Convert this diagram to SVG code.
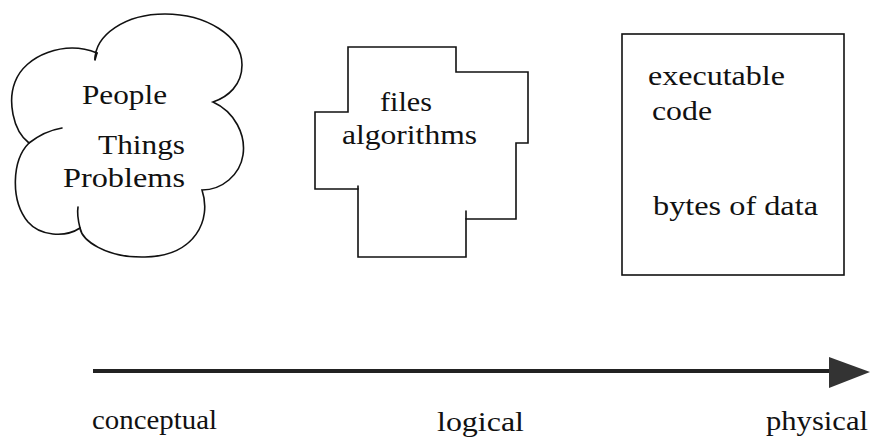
<svg xmlns="http://www.w3.org/2000/svg" width="871" height="437" viewBox="0 0 871 437">
<style>
.s{fill:#fff;stroke:#111;stroke-width:1.6;stroke-linejoin:miter}
.o{fill:none;stroke:#111;stroke-width:1.6;stroke-linecap:round}
text{font-family:"Liberation Serif","Times New Roman",serif;font-size:28px;fill:#111}
</style>
<rect width="871" height="437" fill="#fff"/>
<g id="cloud">
<path class="s" d="M95,60 C95,35 125,14 165,14 C205,14 242,35 242,65 C242,85 228,97 213,102 C235,112 246,135 243,155 C240,175 222,190 202,190 C212,220 195,256 145,257 C105,258 82,240 80,228 C65,238 40,236 28,222 C10,200 12,160 29,143 C12,130 8,100 15,82 C25,55 65,40 97,53 Z"/>
<path class="o" d="M95,60 C95,56 96,54 97,53"/>
<path class="o" d="M29,143 C38,136 50,130 62,128"/>
<path class="o" d="M80,228 C78,220 77,213 78,207"/>
<text x="82" y="104" textLength="85" lengthAdjust="spacingAndGlyphs">People</text>
<text x="98" y="154" textLength="87" lengthAdjust="spacingAndGlyphs">Things</text>
<text x="63" y="187" textLength="122" lengthAdjust="spacingAndGlyphs">Problems</text>
</g>
<g id="cross">
<path class="s" d="M348,47 H456 V72 H528 V143 H516 V219 H466 V257 H358 V189 H315 V112 H348 Z"/>
<path class="o" d="M466,219 V211 M358,189 V186"/>
<text x="380" y="111" textLength="52" lengthAdjust="spacingAndGlyphs">files</text>
<text x="342" y="144" textLength="135" lengthAdjust="spacingAndGlyphs">algorithms</text>
</g>
<g id="box">
<rect class="s" x="622" y="34" width="222" height="241"/>
<text x="648" y="85" textLength="137" lengthAdjust="spacingAndGlyphs">executable</text>
<text x="652" y="120" textLength="60" lengthAdjust="spacingAndGlyphs">code</text>
<text x="653" y="215" textLength="165" lengthAdjust="spacingAndGlyphs">bytes of data</text>
</g>
<g id="connectors">
<line x1="93" y1="371" x2="832" y2="371" stroke="#222" stroke-width="4"/>
<polygon points="829,357 870,372 829,388" fill="#333"/>
</g>
<g id="labels">
<text x="92" y="429" textLength="125" lengthAdjust="spacingAndGlyphs">conceptual</text>
<text x="437" y="431" textLength="87" lengthAdjust="spacingAndGlyphs">logical</text>
<text x="766" y="430" textLength="102" lengthAdjust="spacingAndGlyphs">physical</text>
</g>
</svg>
